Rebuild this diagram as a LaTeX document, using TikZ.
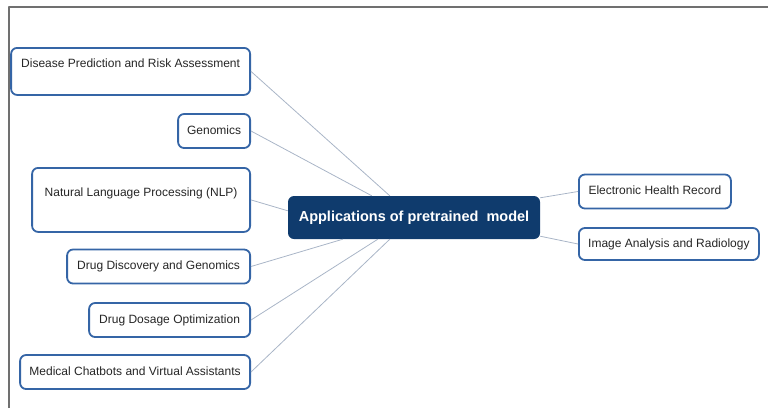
\documentclass[tikz,border=0pt]{standalone}
\usepackage{fontspec}
\setmainfont{Liberation Sans}
\definecolor{boxblue}{HTML}{3565A6}
\definecolor{hubblue}{HTML}{0F3B6D}
\definecolor{linkgray}{HTML}{A9B5C7}
\definecolor{txtgray}{HTML}{262626}
\definecolor{framegray}{HTML}{707070}
\begin{document}
\begin{tikzpicture}[x=1pt, y=-1pt, line join=round,
	leaf/.style={draw=boxblue, line width=1.8pt, rounded corners=6pt, fill=white, text=txtgray,
		font=\fontsize{12}{14}\selectfont, inner sep=0pt, minimum height=34pt,
		text height=8.5pt, text depth=2.5pt},
	hub/.style={fill=hubblue, rounded corners=6pt, text=white, inner sep=0pt,
		font=\fontsize{14.5}{17}\selectfont\bfseries, minimum width=252pt, minimum height=43pt},
	link/.style={draw=linkgray, line width=0.8pt}]
	\useasboundingbox (0,0) rectangle (768,408);
	\draw[framegray, line width=1.3pt] (9,408)--(9,7)--(768,7);
	% centre
	\node[hub] (app) at (414,217.5) {Applications of pretrained\ \ model};
	% left branches
	\node[leaf, anchor=north east, minimum width=239pt, text height=20pt, text depth=27pt] (risk) at (251,47) {Disease Prediction and Risk Assessment};
	\node[leaf, anchor=east, minimum width=72pt] (geno) at (251,131) {Genomics};
	\node[leaf, anchor=north east, minimum width=218pt, text height=29pt, text depth=35pt] (nlp) at (251,167) {Natural Language Processing (NLP)};
	\node[leaf, anchor=east, minimum width=183pt] (drug) at (251,266.5) {Drug Discovery and Genomics};
	\node[leaf, anchor=east, minimum width=161pt] (dose) at (251,320) {Drug Dosage Optimization};
	\node[leaf, anchor=east, minimum width=230pt] (chat) at (251,372) {Medical Chatbots and Virtual Assistants};
	% right branches
	\node[leaf, anchor=west, minimum width=152pt] (ehr) at (578,191.5) {Electronic Health Record};
	\node[leaf, anchor=west, minimum width=180pt, minimum height=32pt] (img) at (578,244) {Image Analysis and Radiology};
	% links
	\draw[link] (risk.east)--([xshift=102pt]app.north west);
	\draw[link] (geno.east)--([xshift=84pt]app.north west);
	\draw[link] (nlp.east)--([yshift=-15pt]app.north west);
	\draw[link] (drug.east)--([xshift=55pt]app.south west);
	\draw[link] (dose.east)--([xshift=90pt]app.south west);
	\draw[link] (chat.east)--([xshift=102pt]app.south west);
	\draw[link] ([yshift=-2pt]app.north east)--(ehr.west);
	\draw[link] ([yshift=3pt]app.south east)--(img.west);
\end{tikzpicture}
\end{document}
